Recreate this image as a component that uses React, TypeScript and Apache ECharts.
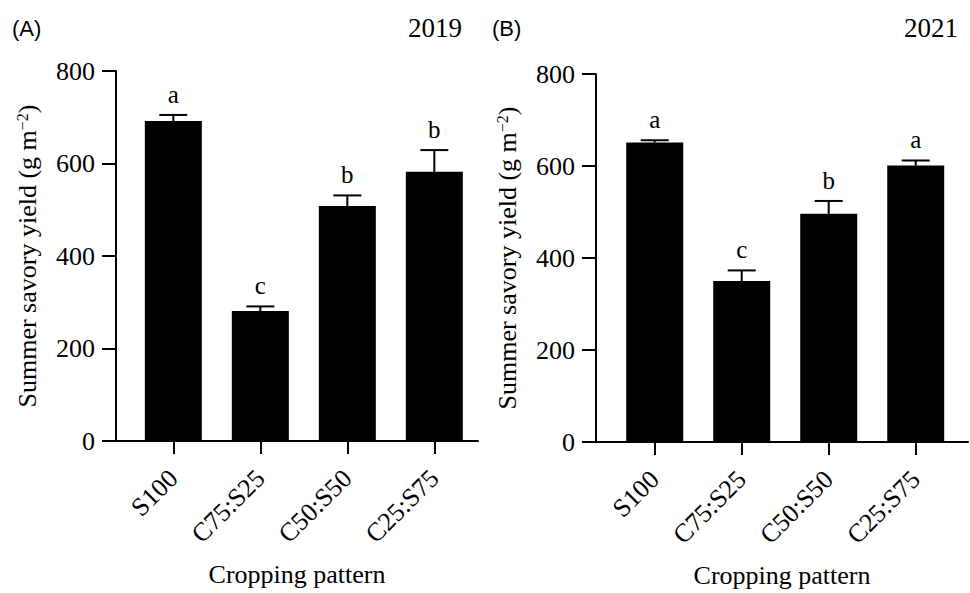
import React, { useEffect, useRef } from "react";
import * as echarts from "echarts";

const categories = ["S100", "C75:S25", "C50:S50", "C25:S75"];
const yield2019 = [692, 281, 508, 582];
const err2019 = [13, 10, 23, 47];
const letters2019 = ["a", "c", "b", "b"];
const yield2021 = [651, 350, 496, 601];
const err2021 = [5, 23, 28, 11];
const letters2021 = ["a", "c", "b", "a"];
const yMax = 800;
const yStep = 200;
const panelTags = ["(A)", "(B)"];
const years = ["2019", "2021"];
const yName = "Summer savory yield (g m";
const xName = "Cropping pattern";

const SERIF = "Liberation Serif";
const SANS = "Liberation Sans";

export default function App() {
  const ref = useRef<HTMLDivElement>(null);
  useEffect(() => {
    if (!ref.current) return;
    const chart = echarts.init(ref.current, null, { renderer: "svg" });
    const idx = categories.map((_, i) => i);

    const mkX = (gi: number, min: number, max: number) => ({
      type: "value",
      gridIndex: gi,
      min,
      max,
      name: xName,
      nameLocation: "middle",
      nameGap: 120,
      nameTextStyle: { fontFamily: SERIF, fontSize: 26, color: "#000" },
      axisLine: { onZero: false, lineStyle: { color: "#000", width: 2 } },
      axisTick: { show: true, length: 13, lineStyle: { color: "#000", width: 2 }, customValues: idx },
      axisLabel: {
        customValues: idx,
        rotate: 45,
        margin: 33,
        fontFamily: SERIF,
        fontSize: 26,
        color: "#000",
        formatter: (v: number) => "{t|" + (categories[Math.round(v)] ?? "") + "}",
        rich: { t: { fontFamily: SERIF, fontSize: 26, color: "#000" } },
      },
      splitLine: { show: false },
    });
    const mkY = (gi: number) => ({
      type: "value",
      gridIndex: gi,
      min: 0,
      max: yMax,
      interval: yStep,
      name: "{n|" + yName + "}{s|−2}{n|)}",
      nameLocation: "middle",
      nameRotate: 90,
      nameGap: 76,
      nameTextStyle: {
        color: "#000",
        fontFamily: SERIF,
        rich: {
          n: { fontFamily: SERIF, fontSize: 26, color: "#000" },
          s: { fontFamily: SERIF, fontSize: 16, color: "#000", verticalAlign: "top" },
        },
      },
      axisLine: { show: true, onZero: false, lineStyle: { color: "#000", width: 2 } },
      axisTick: { show: true, length: 14, lineStyle: { color: "#000", width: 2 } },
      axisLabel: {
        margin: 21,
        fontFamily: SERIF,
        fontSize: 26,
        color: "#000",
        formatter: (v: number) => "{t|" + v + "}",
        rich: { t: { fontFamily: SERIF, fontSize: 26, color: "#000" } },
      },
      splitLine: { show: false },
    });

    const mkBar = (gi: number, vals: number[]) => ({
      type: "bar",
      xAxisIndex: gi,
      yAxisIndex: gi,
      barWidth: 57,
      itemStyle: { color: "#000" },
      data: vals.map((v, i) => [i, v]),
    });
    const mkErr = (gi: number, vals: number[], errs: number[], letters: string[]) => ({
      type: "custom",
      xAxisIndex: gi,
      yAxisIndex: gi,
      clip: false,
      z: 5,
      data: vals.map((v, i) => [i, v, errs[i]]),
      renderItem: (params: any, api: any) => {
        const x = api.value(0);
        const v = api.value(1);
        const e = api.value(2);
        const base = api.coord([x, v]);
        const top = api.coord([x, v + e]);
        const cw = 14;
        const st = { stroke: "#000", lineWidth: 2 };
        return {
          type: "group",
          children: [
            { type: "line", shape: { x1: base[0], y1: base[1], x2: top[0], y2: top[1] }, style: st },
            { type: "line", shape: { x1: top[0] - cw, y1: top[1], x2: top[0] + cw, y2: top[1] }, style: st },
            {
              type: "text",
              x: top[0],
              y: top[1] - 8,
              style: {
                text: letters[params.dataIndex],
                fontFamily: SERIF,
                fontSize: 25,
                fill: "#000",
                textAlign: "center",
                textVerticalAlign: "bottom",
              },
            },
          ],
        };
      },
    });

    chart.setOption({
      animation: false,
      backgroundColor: "#fff",
      textStyle: { fontFamily: SERIF, color: "#000" },
      grid: [
        { left: 116, top: 71, width: 362, height: 370 },
        { left: 596, top: 74, width: 372, height: 369 },
      ],
      xAxis: [mkX(0, -0.659, 3.502), mkX(1, -0.675, 3.601)],
      yAxis: [mkY(0), mkY(1)],
      series: [
        mkBar(0, yield2019),
        mkErr(0, yield2019, err2019, letters2019),
        mkBar(1, yield2021),
        mkErr(1, yield2021, err2021, letters2021),
      ],
      graphic: [
        { type: "text", left: 12, top: 17, style: { text: panelTags[0], fontFamily: SANS, fontSize: 22, fill: "#000" } },
        { type: "text", right: 508, top: 14, style: { text: years[0], fontFamily: SERIF, fontSize: 27, fill: "#000" } },
        { type: "text", left: 492, top: 17, style: { text: panelTags[1], fontFamily: SANS, fontSize: 22, fill: "#000" } },
        { type: "text", right: 12, top: 14, style: { text: years[1], fontFamily: SERIF, fontSize: 27, fill: "#000" } },
      ],
    });
    return () => chart.dispose();
  }, []);
  return <div ref={ref} style={{ position: "fixed", left: 0, top: 0, width: 970, height: 593 }} />;
}
